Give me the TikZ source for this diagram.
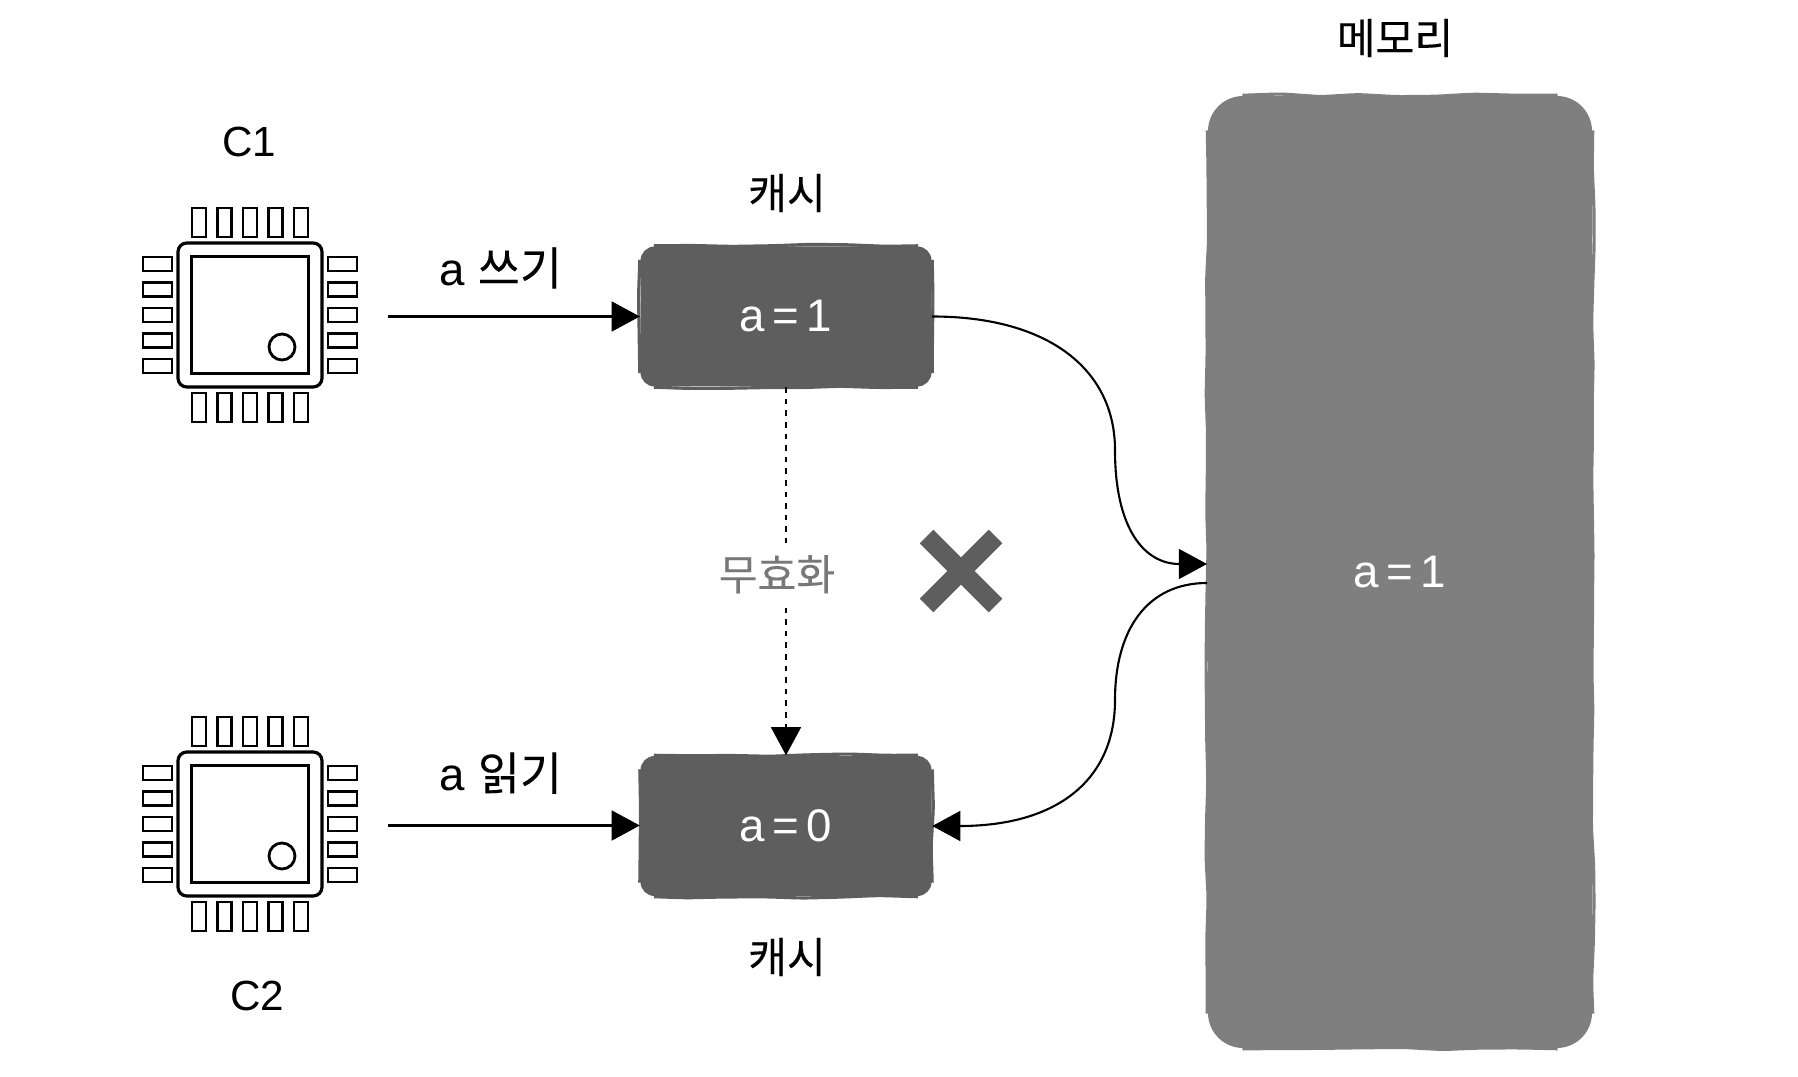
\documentclass[tikz,border=0pt]{standalone}
\usepackage{fontspec}
\usepackage{xcolor}
\usetikzlibrary{arrows.meta,decorations.pathmorphing,shapes.misc}
\setmainfont{Liberation Sans}
\newfontfamily\krfont[FakeBold=0.25]{Noto Sans CJK KR}
\definecolor{cache_dark}{RGB}{94,94,94}
\definecolor{mem_grey}{RGB}{127,127,127}
\definecolor{inval_grey}{RGB}{120,120,120}
\newcommand{\wobbleedges}[3]{%
  \draw[wobbly,#2] ([xshift=#3]#1.north west) -- ([xshift=-#3]#1.north east);
  \draw[wobbly,#2] ([yshift=-#3]#1.north east) -- ([yshift=#3]#1.south east);
  \draw[wobbly,#2] ([xshift=-#3]#1.south east) -- ([xshift=#3]#1.south west);
  \draw[wobbly,#2] ([yshift=#3]#1.south west) -- ([yshift=-#3]#1.north west);
}
\begin{document}
\begin{tikzpicture}[font=\fontsize{13pt}{15pt}\selectfont,
          wobbly/.style={decorate, decoration={random steps, segment length=11pt, amplitude=0.4pt},
                     line width=0.9pt, line join=round, rounded corners=2pt},
          cachebox/.style={fill=cache_dark, text=white, rounded corners=4pt,
                     minimum width=2.91cm, minimum height=1.40cm, inner sep=0pt},
          membox/.style={fill=mem_grey, text=white, rounded corners=10pt,
                     minimum width=3.84cm, minimum height=9.52cm, inner sep=0pt},
          lbl/.style={font=\fontsize{12pt}{14pt}\selectfont\krfont, inner sep=0pt},
          chipname/.style={font=\fontsize{12pt}{14pt}\selectfont},
          arr/.style={-{Triangle[length=8pt,width=8.5pt]}, line width=0.6pt, black},
          pin/.style={draw=black, line width=0.8pt},
          chip/.pic={
            \node[draw=black, line width=0.9pt, rounded corners=2.5pt, minimum size=1.44cm, inner sep=0pt] (-pkg) at (0,0) {};
            \node[draw=black, line width=0.9pt, minimum size=1.17cm, inner sep=0pt] (-die) at (0,0) {};
            \draw[pin] (0.32,-0.32) circle (0.13);
            \foreach \p in {-0.51,-0.255,0,0.255,0.51} {
              \draw[pin] (\p-0.07,0.78) rectangle (\p+0.07,1.07);
              \draw[pin] (\p-0.07,-0.78) rectangle (\p+0.07,-1.07);
              \draw[pin] (-1.07,\p-0.07) rectangle (-0.78,\p+0.07);
              \draw[pin] (0.78,\p-0.07) rectangle (1.07,\p+0.07);
            }
            \coordinate (-out) at (1.38,-0.015);
          }]
        \useasboundingbox (0,0) rectangle (17.98,10.76);
        \pgfmathsetseed{7}
        % chips
        \pic (c1) at (2.50,7.61) {chip};
        \pic (c2) at (2.50,2.52) {chip};
        \node[chipname] (c1name) at (2.49,9.34) {C1};
        \node[chipname] (c2name) at (2.57,0.80) {C2};
        % caches and memory
        \node[cachebox] (cacheone) at (7.86,7.595) {a\,=\,1};
        \node[cachebox] (cachetwo) at (7.86,2.50) {a\,=\,0};
        \node[membox]   (mem)      at (14.00,5.04) {a\,=\,1};
        \wobbleedges{cacheone}{cache_dark}{0.14cm}
        \wobbleedges{cachetwo}{cache_dark}{0.14cm}
        \wobbleedges{mem}{mem_grey}{0.35cm}
        \node[lbl] (cacheonename) at (7.87,8.83) {캐시};
        \node[lbl] (cachetwoname) at (7.87,1.19) {캐시};
        \node[lbl] (memname)      at (13.95,10.38) {메모리};
        % connectors
        \coordinate (memin)   at (12.07,5.12);
        \coordinate (memout)  at (12.07,4.93);
        \coordinate (midup)   at (11.15,6.26);
        \coordinate (middown) at (11.15,3.76);
        \draw[arr] (c1-out) -- node[above=4.3pt, xshift=-0.13cm] (writelbl) {a {\krfont 쓰기}} (c1-out -| cacheone.west);
        \draw[arr] (c2-out) -- node[above=5.4pt, xshift=-0.13cm] (readlbl) {a {\krfont 읽기}} (c2-out -| cachetwo.west);
        \draw[arr, dash pattern=on 1.6pt off 1.7pt] (cacheone) -- node[lbl, fill=white, text=inval_grey, xshift=-0.09cm, yshift=-0.03cm, inner ysep=3.5pt] (invallbl) {무효화} (cachetwo);
        \draw[arr] (cacheone.east) .. controls +(1.17,0) and +(0,0.8) .. (midup)
          .. controls +(0,-0.8) and +(-0.62,0) .. (memin);
        \draw[arr] (memout) .. controls +(-0.6,0) and +(0,0.7) .. (middown)
          .. controls +(0,-0.8) and +(1.25,0) .. (cachetwo.east);
        \node[cross out, draw=cache_dark, line width=5.5pt, minimum size=0.69cm, inner sep=0pt, outer sep=0pt] (nope) at (9.61,5.05) {};
      \end{tikzpicture}
\end{document}
